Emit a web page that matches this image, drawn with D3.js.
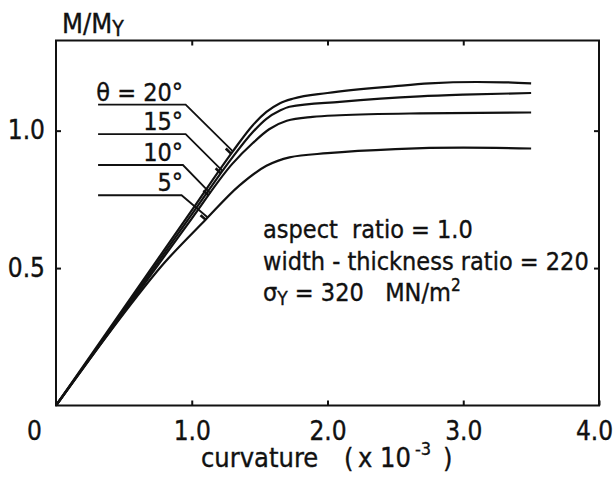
<!DOCTYPE html>
<html>
<head>
<meta charset="utf-8">
<script src="https://cdn.jsdelivr.net/npm/d3@7"></script>
<style>
body { margin: 0; background: #fff; }
text { font-family: "DejaVu Sans Condensed", "DejaVu Sans", sans-serif; fill: #111; stroke: #111; stroke-width: 0.35px; white-space: pre; }
</style>
</head>
<body>
<svg id="chart" width="614" height="477"></svg>
<script>
// M/My against curvature (x 10^-3), one curve per theta
let theta20 = [[0,0],[0.5,0.355],[1.0,0.71],[1.3,0.923],[1.45,1.02],[1.55,1.068],[1.65,1.1],[1.75,1.117],[2.0,1.137],[2.5,1.162],[2.75,1.172],[3.1,1.177],[3.3,1.176],[3.5,1.172]];
let theta15 = [[0,0],[0.5,0.347],[1.0,0.695],[1.3,0.903],[1.45,0.995],[1.55,1.043],[1.65,1.073],[1.72,1.087],[2.09,1.105],[2.68,1.125],[3.0,1.131],[3.5,1.137]];
let theta10 = [[0,0],[0.5,0.34],[1.0,0.68],[1.3,0.88],[1.45,0.955],[1.57,1.005],[1.7,1.036],[1.89,1.05],[2.09,1.056],[2.68,1.063],[3.5,1.066]];
let theta5 = [[0,0],[0.4,0.27],[0.8,0.52],[1.1,0.675],[1.35,0.8],[1.55,0.872],[1.72,0.903],[2.0,0.918],[2.5,0.933],[3.0,0.938],[3.5,0.935]];
let series = [theta20, theta15, theta10, theta5];

let thetaLabels = ["θ = 20°", "15°", "10°", "5°"];
let labelY = [1.095, 0.987, 0.875, 0.765];      // height of each label's shelf line
let labelX1 = [0.955, 0.955, 0.935, 0.925];     // where the shelf turns down
let attachX = [1.303, 1.228, 1.138, 1.118];     // where the leader meets its curve
let labelX0 = 0.31;

let xTicks = [1, 2, 3, 4];
let yTicks = [0.5, 1.0];

let svg = d3.select('#chart');
let x = d3.scaleLinear().domain([0, 4]).range([56, 599]);
let y = d3.scaleLinear().domain([0, 1.328]).range([405.5, 40.5]);
let fs = 26;

// frame
svg.append('rect')
    .attr('x', x(0)).attr('y', y(1.328))
    .attr('width', x(4) - x(0)).attr('height', y(0) - y(1.328))
    .attr('fill', 'none').attr('stroke', '#111').attr('stroke-width', 2);

let bottom = svg.append('g').attr('transform', 'translate(0,' + y(0) + ')')
    .call(d3.axisBottom(x).tickValues(xTicks).tickSize(-5).tickPadding(16)
        .tickFormat(d3.format('.1f')));
let left = svg.append('g').attr('transform', 'translate(' + x(0) + ',0)')
    .call(d3.axisLeft(y).tickValues(yTicks).tickSize(-5).tickPadding(11)
        .tickFormat(d3.format('.1f')));
svg.append('g').attr('transform', 'translate(0,' + y(1.328) + ')')
    .call(d3.axisTop(x).tickValues([1, 2, 3]).tickSize(-5).tickFormat(''));
svg.append('g').attr('transform', 'translate(' + x(4) + ',0)')
    .call(d3.axisRight(y).tickValues(yTicks).tickSize(-5).tickFormat(''));

svg.selectAll('.domain').remove();
svg.selectAll('.tick line').attr('stroke', '#111').attr('stroke-width', 2);
svg.selectAll('.tick text').style('font-size', fs + 'px').attr('fill', '#111')
    .style('font-family', '"DejaVu Sans Condensed", "DejaVu Sans", sans-serif');
bottom.selectAll('.tick text').filter(d => d === 4).attr('x', -5);

// origin label
svg.append('text').attr('x', 34.5).attr('y', 440).attr('text-anchor', 'middle')
    .style('font-size', fs + 'px').text('0');

// axis titles
let yt = svg.append('text').attr('x', 62).attr('y', 33).style('font-size', '27px');
yt.append('tspan').text('M/M');
yt.append('tspan').attr('dy', 3).style('font-size', '21px').text('Y');

let xt = svg.append('text').attr('y', 467).style('font-size', '27px');
xt.append('tspan').attr('x', 201).text('curvature');
xt.append('tspan').attr('x', 344).text('(');
xt.append('tspan').attr('x', 358).text('x');
xt.append('tspan').attr('x', 380).text('10');
xt.append('tspan').attr('x', 415).attr('dy', -12).style('font-size', '18px').text('-3');
xt.append('tspan').attr('x', 443).attr('dy', 12).text(')');

// curves
let line = d3.line().x(d => x(d[0])).y(d => y(d[1])).curve(d3.curveMonotoneX);
svg.selectAll('.curve').data(series).enter().append('path')
    .attr('class', 'curve')
    .attr('d', line)
    .attr('fill', 'none').attr('stroke', '#111').attr('stroke-width', 2.2);

// theta labels with leader lines
series.forEach(function (s, i) {
    let interp = d3.scaleLinear().domain(s.map(d => d[0])).range(s.map(d => d[1]));
    let ex = x(attachX[i]), ey = y(interp(attachX[i]));
    let pts = [[x(labelX0), y(labelY[i])], [x(labelX1[i]), y(labelY[i])], [ex, ey]];
    svg.append('path').attr('d', d3.line()(pts))
        .attr('fill', 'none').attr('stroke', '#111').attr('stroke-width', 1.8);
    // small bar at the end of the leader
    let dx = ex - pts[1][0], dy = ey - pts[1][1], len = Math.hypot(dx, dy);
    let ux = dx / len, uy = dy / len;
    svg.append('line')
        .attr('x1', ex - ux * 7 - uy * 3).attr('y1', ey - uy * 7 + ux * 3)
        .attr('x2', ex - uy * 3).attr('y2', ey + ux * 3)
        .attr('stroke', '#111').attr('stroke-width', 2.6);
    svg.append('text').attr('x', 183).attr('y', y(labelY[i]) - 4)
        .attr('text-anchor', 'end').style('font-size', '25px')
        .text(thetaLabels[i]);
});

// notes
let notes = svg.append('text').style('font-size', '25px');
notes.append('tspan').attr('x', 263).attr('y', 238).text('aspect  ratio = 1.0');
notes.append('tspan').attr('x', 263).attr('y', 270).text('width - thickness ratio = 220');
let n3 = svg.append('text').attr('x', 263).attr('y', 301).style('font-size', '25px');
n3.append('tspan').text('σ');
n3.append('tspan').attr('dy', 4).style('font-size', '19px').text('Y');
n3.append('tspan').attr('dy', -4).text(' = 320   MN/m');
n3.append('tspan').attr('dy', -10).style('font-size', '17px').text('2');
</script>
</body>
</html>
